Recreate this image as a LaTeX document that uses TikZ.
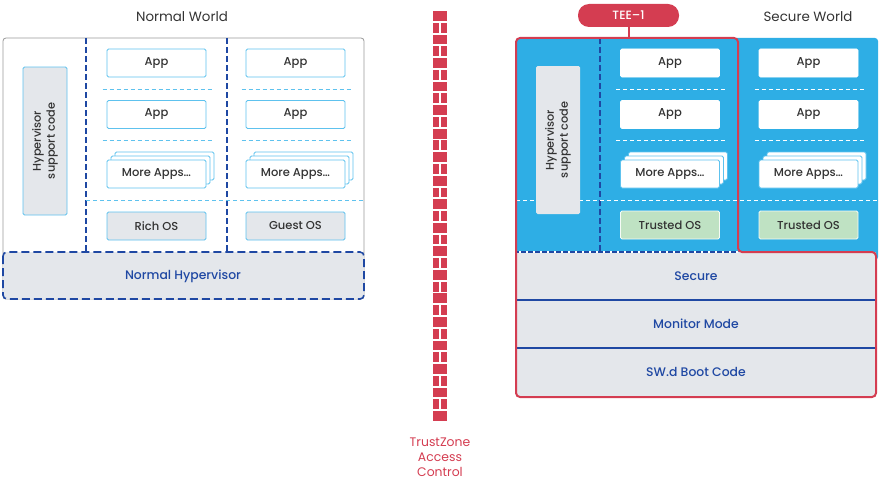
\documentclass[tikz,border=0pt]{standalone}
\usepackage{fontspec}
\setmainfont{Poppins}
\newfontfamily\poppinsmed{Poppins Medium}

\definecolor{lineblue}{HTML}{5EC2EE}
\definecolor{darkblue}{HTML}{1F48A3}
\definecolor{secblue}{HTML}{2EAEE5}
\definecolor{boxgrey}{HTML}{E4E7EB}
\definecolor{tzred}{HTML}{D43D51}
\definecolor{osgreen}{HTML}{BFE2C3}
\definecolor{textgrey}{HTML}{333333}

\tikzset{
  appbox/.style={draw=lineblue, fill=white, rounded corners=1.5pt, line width=0.8pt,
    minimum width=99pt, minimum height=28pt, inner sep=0pt,
    font=\poppinsmed\fontsize{11.5}{13}\selectfont, text=textgrey},
  osbox/.style={appbox, fill=boxgrey},
  secapp/.style={appbox, draw=white},
  trustbox/.style={appbox, draw=white!85!osgreen, fill=osgreen},
  hsupbox/.style={rotate=90, minimum width=148pt, minimum height=44pt, inner sep=0pt,
    align=center, fill=boxgrey, rounded corners=1.5pt,
    font=\poppinsmed\fontsize{11.3}{14}\selectfont, text=textgrey},
  layerlbl/.style={font=\poppinsmed\fontsize{12.4}{14}\selectfont, text=darkblue},
  worldlbl/.style={font=\fontsize{13.4}{15}\selectfont, text=textgrey},
  vdash/.style={darkblue, line width=1.5pt, dash pattern=on 6pt off 3pt},
  lightdash/.style={lineblue, line width=1pt, dash pattern=on 4pt off 3pt},
  whitedash/.style={white, line width=1pt, dash pattern=on 4pt off 3pt},
}

\begin{document}
\begin{tikzpicture}[x=1pt,y=-1pt]
\useasboundingbox (0,0) rectangle (880,487);

% normal world
\node[worldlbl] (nwtitle) at (182,17) {Normal World};
\draw[draw=black!40, fill=white, rounded corners=3pt, line width=0.8pt] (3,38) rectangle (364,299);
\draw[darkblue, fill=boxgrey, rounded corners=4pt, line width=1.6pt, dash pattern=on 8pt off 4pt]
  (3,252) rectangle (364,299);
\node[layerlbl] (nhyp) at (183,276) {Normal Hypervisor};
\draw[vdash] (86,38) -- (86,252);
\draw[vdash] (227,38) -- (227,252);
\draw[lightdash] (86,200) -- (364,200);
\node[hsupbox, draw=lineblue, line width=0.8pt] (nhsup) at (45,141) {Hypervisor\\support code};

\foreach \cx/\nm/\os in {156.5/nA/Rich OS,295.5/nB/Guest OS} {
  \node[appbox] (\nm app1) at (\cx,63) {App};
  \node[appbox] (\nm app2) at (\cx,114.5) {App};
  \draw[lightdash] (\cx-54,89) -- (\cx+56,89);
  \draw[lightdash] (\cx-54,140) -- (\cx+56,140);
  \node[appbox] (\nm back2) at (\cx+8,166) {};
  \node[appbox] (\nm back1) at (\cx+4,170) {};
  \node[appbox] (\nm more) at (\cx,174) {More Apps…};
  \node[osbox] (\nm os) at (\cx,226) {\os};
}

% firewall
\foreach \i in {0,...,34} {
  \pgfmathsetmacro{\by}{11+\i*11.77}
  \ifodd\i
    \fill[tzred] (433,\by) rectangle (439.3,\by+9.8);
    \fill[tzred] (441.2,\by) rectangle (447,\by+9.8);
  \else
    \fill[tzred] (433,\by) rectangle (447,\by+9.8);
  \fi
}
\node[font=\fontsize{12.4}{15}\selectfont, text=tzred, align=center] (tzlbl) at (440,457)
  {TrustZone\\Access\\Control};

% secure world
\node[worldlbl] (swtitle) at (808,17) {Secure World};
\fill[secblue, rounded corners=3pt] (516,38) rectangle (878,260);
\fill[boxgrey] (516,252) rectangle (876,397);
\draw[darkblue, line width=1.2pt] (516,300) -- (876,300);
\draw[darkblue, line width=1.2pt] (516,348) -- (876,348);
\draw[darkblue, line width=1.6pt] (516,252) -- (738,252);
\draw[white, line width=1.6pt, dash pattern=on 2pt off 5pt] (519,252) -- (738,252);
\draw[vdash] (600,38) -- (600,252);
\draw[whitedash] (516,200) -- (878,200);
\draw[tzred, line width=2pt, rounded corners=4pt]
  (516,38) -- (738,38) -- (738,252) -- (876,252) -- (876,397) -- (516,397) -- cycle;
\node[layerlbl] (secmon) at (696,276) {Secure};
\node[layerlbl] (monmode) at (696,324) {Monitor Mode};
\node[layerlbl] (bootcode) at (696,372) {SW.d Boot Code};
\node[hsupbox] (shsup) at (558,140) {Hypervisor\\support code};

\foreach \cx/\nm in {670/sA,808.5/sB} {
  \node[secapp] (\nm app1) at (\cx,63) {App};
  \node[secapp] (\nm app2) at (\cx,114.5) {App};
  \draw[whitedash] (\cx-54,89) -- (\cx+56,89);
  \draw[whitedash] (\cx-54,140) -- (\cx+56,140);
  \node[appbox] (\nm back2) at (\cx+8,166) {};
  \node[appbox] (\nm back1) at (\cx+4,170) {};
  \node[appbox] (\nm more) at (\cx,174) {More Apps…};
  \node[trustbox] (\nm os) at (\cx,225) {Trusted OS};
}

\node[fill=tzred, rounded corners=11pt, minimum width=101pt, minimum height=23pt,
  inner sep=0pt, text=white, font=\poppinsmed\fontsize{12}{14}\selectfont] (tee) at (628.5,15.5) {TEE–1};
\coordinate (teefoot) at (628.5,38);
\draw[tzred, line width=2pt] (tee.south) -- (teefoot);
\end{tikzpicture}
\end{document}
